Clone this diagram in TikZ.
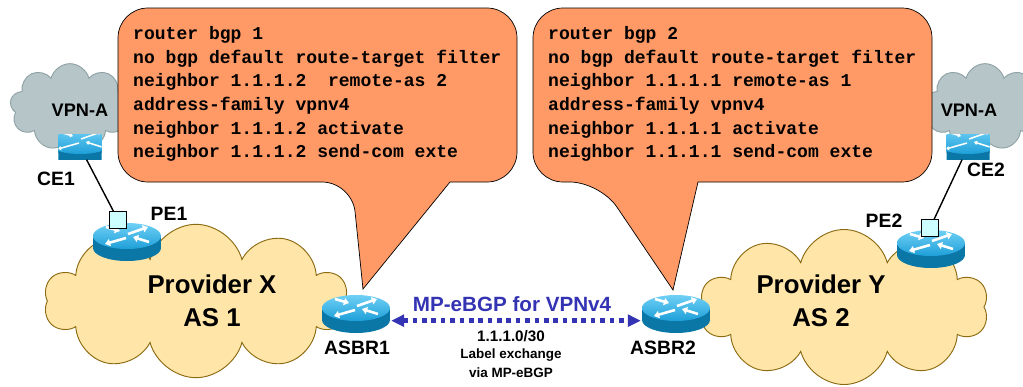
\documentclass[tikz,border=0pt]{standalone}
\usepackage{fontspec}
\setmainfont{Liberation Sans}
\setmonofont{Liberation Mono}
\usepackage{xcolor}
\usetikzlibrary{arrows.meta, positioning, shapes.symbols}

\definecolor{calloutorange}{HTML}{FF9966}
\definecolor{vpngray}{HTML}{B6C5C8}
\definecolor{vpnedge}{HTML}{8FA2A5}
\definecolor{provyellow}{HTML}{FFE6A8}
\definecolor{provedge}{HTML}{8C6A12}
\definecolor{routertop}{HTML}{1E9FD8}
\definecolor{routerhi}{HTML}{6FD0F5}
\definecolor{routerside}{HTML}{0B77A6}
\definecolor{linkblue}{HTML}{3333B3}
\definecolor{ifcyan}{HTML}{CCFFFF}

% cisco style router drawn inside the node
\newcommand{\routericon}[2]{%
  \begin{scope}[shift={(path picture bounding box.center)}, scale=#1]
    \fill[routerside] (-34,-6) rectangle (34,6);
    \fill[routerside] (0,6) ellipse [x radius=34, y radius=13];
    \shade[top color=routerhi, bottom color=routertop] (0,-6) ellipse [x radius=34, y radius=13];
    \draw[white, line width=#2, -{Triangle[length=0pt 2, width=0pt 2.8]}] (-21,-15) -- (-7,-11);
    \draw[white, line width=#2, -{Triangle[length=0pt 2, width=0pt 2.8]}] (1,-8) -- (21,-15);
    \draw[white, line width=#2, -{Triangle[length=0pt 2, width=0pt 2.8]}] (-1,-4) -- (-22,2);
    \draw[white, line width=#2, -{Triangle[length=0pt 2, width=0pt 2.8]}] (22,0) -- (6,-5);
  \end{scope}}

\tikzset{
    router/.style={inner sep=0pt, minimum width=2.1cm, minimum height=1.2cm, path picture={\routericon{1}{2.2pt}}},
    smallrouter/.style={inner sep=0pt, minimum width=1.29cm, minimum height=0.75cm, path picture={\routericon{0.6}{1.3pt}}},
    provcloud/.style={cloud, cloud puffs=10, cloud ignores aspect, draw=provedge, fill=provyellow, line width=0.8pt},
    vpncloud/.style={cloud, cloud puffs=9, cloud ignores aspect, draw=vpnedge, fill=vpngray, line width=0.8pt},
}
\tikzstyle{callout} = [draw=black, fill=calloutorange, line width=0.6pt]
\tikzstyle{cfgtext} = [font=\ttfamily\bfseries\fontsize{15.4}{20.2}\selectfont, align=left, inner sep=0pt]
\tikzstyle{lbl} = [font=\bfseries\fontsize{16.5}{18}\selectfont, inner sep=0pt]
\tikzstyle{ifbox} = [draw=black, fill=ifcyan, minimum size=0.51cm, inner sep=0pt, line width=0.6pt]
\tikzstyle{access} = [black, line width=1.2pt]
\tikzstyle{bgplink} = [linkblue, line width=4pt, dash pattern=on 4pt off 4pt, {Triangle[length=11pt,width=10pt]}-{Triangle[length=11pt,width=10pt]}]

\begin{document}
\begin{tikzpicture}[x=0.03cm, y=-0.03cm]
        \useasboundingbox (0,0) rectangle (1023,386);
        % Clouds
        \node (vpnl) [vpncloud, minimum width=3.6cm, minimum height=2.6cm] at (70,107) {};
        \node (vpnr) [vpncloud, minimum width=3.6cm, minimum height=2.6cm] at (985,107) {};
        \node (provx) [provcloud, minimum width=9.1cm, minimum height=4.6cm] at (196,301) {};
        \node (provy) [provcloud, minimum width=8.65cm, minimum height=4.65cm] at (844,307) {};

        % Callouts
        \draw[callout] (450,182) [rounded corners=0.9cm] -- (517,182) -- (517,8) -- (118,8) -- (118,182) -- (352,182) [sharp corners] -- (363,289) -- cycle;
        \draw[callout] (698,182) [rounded corners=0.9cm] -- (932,182) -- (932,8) -- (533,8) -- (533,182) -- (600,182) [sharp corners] -- (673,290) -- cycle;
        \node (cfgx) [cfgtext, anchor=west] at (133,94) {router bgp 1\\no bgp default route-target filter\\neighbor 1.1.1.2~ remote-as 2\\address-family vpnv4\\neighbor 1.1.1.2 activate\\neighbor 1.1.1.2 send-com exte};
        \node (cfgy) [cfgtext, anchor=west] at (548,94) {router bgp 2\\no bgp default route-target filter\\neighbor 1.1.1.1 remote-as 1\\address-family vpnv4\\neighbor 1.1.1.1 activate\\neighbor 1.1.1.1 send-com exte};

        % Routers
        \node (ce1) [smallrouter] at (80,147) {};
        \node (pe1) [router] at (127,242) {};
        \node (asbr1) [router] at (356,314) {};
        \node (asbr2) [router] at (676,314) {};
        \node (pe2) [router] at (931,249) {};
        \node (ce2) [smallrouter] at (968,147) {};
        \node (pe1if) [ifbox] at (118,220) {};
        \node (pe2if) [ifbox] at (930,228) {};

        % Labels
        \node (vpnllbl) [lbl, font=\bfseries\fontsize{15.5}{17}\selectfont] at (80,110) {VPN-A};
        \node (vpnrlbl) [lbl, font=\bfseries\fontsize{15.5}{17}\selectfont] at (969,110) {VPN-A};
        \node (ce1lbl) [lbl] at (56,179) {CE1};
        \node (pe1lbl) [lbl] at (169,214) {PE1};
        \node (ce2lbl) [lbl] at (986,170) {CE2};
        \node (pe2lbl) [lbl] at (884,221) {PE2};
        \node (asbr1lbl) [lbl] at (357,348) {ASBR1};
        \node (asbr2lbl) [lbl] at (663,348) {ASBR2};
        \node (provxlbl) [lbl, align=center, font=\bfseries\fontsize{22}{28}\selectfont] at (212,301) {Provider X\\AS 1};
        \node (provylbl) [lbl, align=center, font=\bfseries\fontsize{22}{28}\selectfont] at (821,301) {Provider Y\\AS 2};
        \node (bgplbl) [lbl, text=linkblue, font=\bfseries\fontsize{17.6}{20}\selectfont] at (512,304) {MP-eBGP for VPNv4};
        \node (netlbl) [lbl, font=\bfseries\fontsize{13}{15}\selectfont] at (511,336) {1.1.1.0/30};
        \node (lxlbl) [lbl, align=center, font=\bfseries\fontsize{11.5}{16}\selectfont] at (511,363) {Label exchange\\via MP-eBGP};

        % Links
        \draw[access] (ce1) -- (pe1if);
        \draw[access] (ce2) -- (pe2if);
        \draw[bgplink] ([yshift=-0.2cm]asbr1.east) -- ([yshift=-0.2cm]asbr2.west);
    \end{tikzpicture}
\end{document}
